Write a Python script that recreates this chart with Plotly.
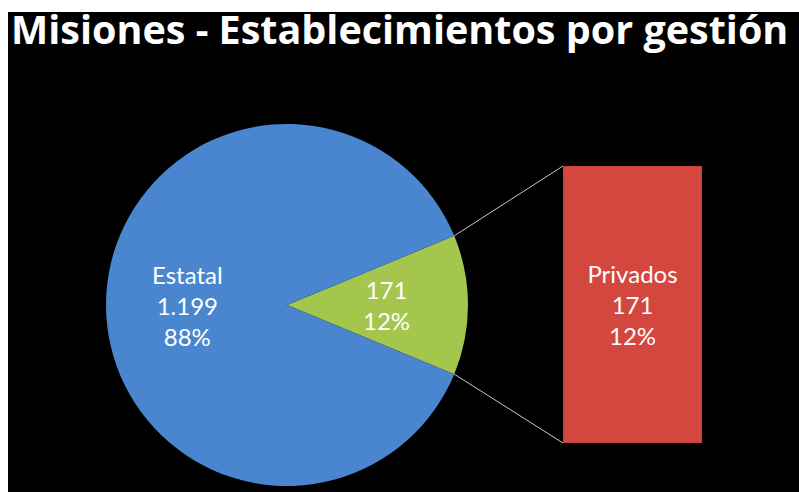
import math
import plotly.graph_objects as go

W, H = 799, 492

# data
pie_labels = ["Privados", "Estatal"]
pie_values = [171, 1199]
bar_labels = ["Privados"]
bar_values = [171]
title_text = "Misiones - Establecimientos por gestión"

pie_colors = ["#a4c64d", "#4a86cf"]
bar_color = "#d4473f"
line_color = "#c8c8c8"
font_family = "Lato"
label_size = 24

# layout in screen pixels
pie_cx, pie_cy, pie_r = 287, 305, 181
bar_x0, bar_x1, bar_y0, bar_y1 = 563, 702, 166, 443


def px(x):
    return x / W


def py(y):
    return 1 - y / H


total = sum(pie_values)
half_angle = 180.0 * pie_values[0] / total


def fmt(v):
    return "{:,}".format(v).replace(",", ".")


fig = go.Figure()

fig.add_trace(go.Pie(
    labels=pie_labels, values=pie_values, sort=False,
    direction="clockwise", rotation=90 - half_angle,
    marker=dict(colors=pie_colors, line=dict(width=0)),
    textinfo="none",
    domain=dict(x=[px(pie_cx - pie_r), px(pie_cx + pie_r)],
                y=[py(pie_cy + pie_r), py(pie_cy - pie_r)]),
    showlegend=False, hoverinfo="skip",
))

bar_pct = ["{:.0%}".format(v / total) for v in bar_values]
fig.add_trace(go.Bar(
    x=bar_labels, y=bar_values, width=1, customdata=bar_pct,
    marker=dict(color=bar_color, line=dict(color="#b83c35", width=1)),
    texttemplate="%{x}<br>%{y}<br>%{customdata}", textposition="inside",
    insidetextanchor="middle", textangle=0,
    textfont=dict(family=font_family, size=label_size, color="white"),
    xaxis="x2", yaxis="y2", showlegend=False, hoverinfo="skip",
))

# slice labels along each slice's bisector
annotations = []
pie_texts = [
    "{}<br>{:.0%}".format(fmt(pie_values[0]), pie_values[0] / total),
    "{}<br>{}<br>{:.0%}".format(pie_labels[1], fmt(pie_values[1]), pie_values[1] / total),
]
bisectors = [0.0, 180.0]
for txt, ang in zip(pie_texts, bisectors):
    r = 0.55 * pie_r
    annotations.append(dict(
        text=txt, xref="paper", yref="paper",
        x=px(pie_cx + r * math.cos(math.radians(ang))), y=py(pie_cy),
        xanchor="center", yanchor="middle", showarrow=False,
        font=dict(family=font_family, size=label_size, color="white"),
    ))

annotations.append(dict(
    text="<b>" + title_text + "</b>", xref="paper", yref="paper",
    x=px(9), y=py(29), xanchor="left", yanchor="middle", showarrow=False,
    font=dict(family="Open Sans", size=39.5, color="white"),
))

# connector lines from pie slice edges to bar corners
a = math.radians(half_angle)
ux, uy = pie_cx + pie_r * math.cos(a), pie_cy - pie_r * math.sin(a)
lx, ly = pie_cx + pie_r * math.cos(a), pie_cy + pie_r * math.sin(a)

shapes = [
    dict(type="rect", xref="paper", yref="paper", x0=px(8), x1=1, y0=0, y1=py(12),
         fillcolor="black", line=dict(width=0), layer="below"),
    dict(type="line", xref="paper", yref="paper", x0=px(ux), y0=py(uy), x1=px(bar_x0), y1=py(bar_y0),
         line=dict(color=line_color, width=1)),
    dict(type="line", xref="paper", yref="paper", x0=px(lx), y0=py(ly), x1=px(bar_x0), y1=py(bar_y1),
         line=dict(color=line_color, width=1)),
]

fig.update_layout(
    width=W, height=H,
    margin=dict(l=0, r=0, t=0, b=0),
    paper_bgcolor="white",
    plot_bgcolor="rgba(0,0,0,0)",
    font=dict(family=font_family, color="white"),
    shapes=shapes,
    annotations=annotations,
    xaxis2=dict(domain=[px(bar_x0), px(bar_x1)], range=[-0.5, 0.5], visible=False,
                anchor="y2", fixedrange=True),
    yaxis2=dict(domain=[py(bar_y1), py(bar_y0)], range=[0, bar_values[0]], visible=False,
                anchor="x2", fixedrange=True),
    xaxis=dict(visible=False),
    yaxis=dict(visible=False),
)

# let the figure fill the window exactly
fig.write_html(
    "out.html",
    config={"displayModeBar": False},
    post_script="document.body.style.margin = '0';"
                "document.documentElement.style.overflow = 'hidden';",
)
